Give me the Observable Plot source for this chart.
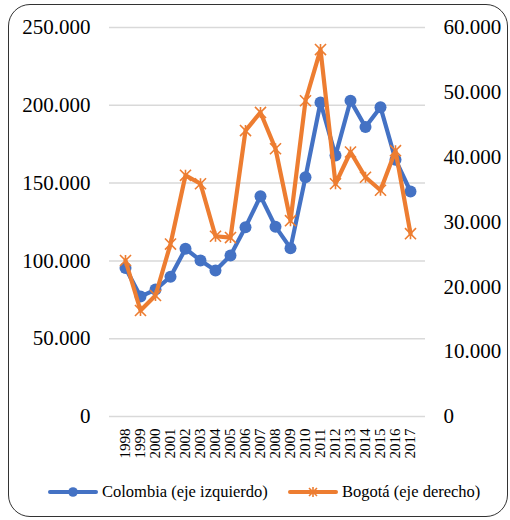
<!DOCTYPE html>
<html>
<head>
<meta charset="utf-8">
<script src="https://cdn.jsdelivr.net/npm/d3@7"></script>
<script src="https://cdn.jsdelivr.net/npm/@observablehq/plot@0.6"></script>
<style>
  html, body { margin: 0; padding: 0; background: #fff; }
  body { width: 510px; height: 520px; position: relative; overflow: hidden; }
  #frame { position: absolute; left: 8px; top: 4px; width: 498px; height: 511px; border: 1.5px solid #333; border-radius: 22px; }
  #chart { position: absolute; left: 0; top: 0; }
  #chart svg, #chart svg text, #legend, #legend span { font-family: 'Liberation Serif', 'Times New Roman', serif !important; }
  #legend { position: absolute; top: 481px; left: 0; width: 510px; height: 22px; font-size: 16.5px; color: #000; }
  .item { position: absolute; top: 0; display: flex; align-items: center; height: 22px; white-space: nowrap; }
  .item svg { margin-right: 2px; }
</style>
</head>
<body>
<div id="frame"></div>
<div id="chart"></div>
<div id="legend"></div>
<script>
const years = ["1998","1999","2000","2001","2002","2003","2004","2005","2006","2007","2008","2009","2010","2011","2012","2013","2014","2015","2016","2017"];
const colombia = [95500, 77100, 81600, 89800, 107800, 100300, 93800, 103500, 121700, 141600, 122000, 108200, 153800, 201800, 167700, 203000, 186000, 198800, 165000, 144600];
const bogota = [24060, 16350, 18660, 26600, 37200, 35900, 27800, 27600, 44100, 46900, 41300, 30200, 48700, 56600, 35900, 40800, 36900, 34900, 41000, 28200];
const leftTicks = [0, 50000, 100000, 150000, 200000, 250000];
const rightTicks = [0, 10000, 20000, 30000, 40000, 50000, 60000];
const seriesNames = ["Colombia (eje izquierdo)", "Bogotá (eje derecho)"];
const colors = ["#4472C4", "#ED7D31"];

const k = 250000 / 60000;
const fmt = d3.formatLocale({decimal: ",", thousands: ".", grouping: [3], currency: ["$", ""]}).format(",");

const rowsC = years.map((y, i) => ({year: y, value: colombia[i]}));
const rowsB = years.map((y, i) => ({year: y, value: bogota[i] * k}));

const star = {
  draw(context, size) {
    const r = Math.sqrt(size) * 0.6;
    context.moveTo(-r, -r); context.lineTo(r, r);
    context.moveTo(-r, r); context.lineTo(r, -r);
    context.moveTo(0, -r); context.lineTo(0, r);
  }
};

const chart = Plot.plot({
  width: 510,
  height: 470,
  marginTop: 27,
  marginBottom: 54,
  marginLeft: 109,
  marginRight: 85,
  style: {fontFamily: "'Liberation Serif', 'Times New Roman', serif", background: "transparent", color: "#000"},
  x: {type: "point", domain: years, padding: 0.5, label: null},
  y: {domain: [0, 250000], label: null},
  marks: [
    Plot.gridY(leftTicks, {stroke: "#d9d9d9", strokeOpacity: 1, strokeWidth: 1.5}),
    Plot.axisY(leftTicks, {anchor: "left", tickSize: 0, tickPadding: 19, tickFormat: fmt, fontSize: 21, label: null}),
    Plot.axisY(rightTicks.map(v => v * k), {anchor: "right", tickSize: 0, tickPadding: 18, tickFormat: v => fmt(Math.round(v / k)), fontSize: 21, label: null}),
    Plot.axisX({tickSize: 0, tickRotate: -90, fontSize: 15, tickPadding: 12, label: null}),
    Plot.line(rowsC, {x: "year", y: "value", stroke: colors[0], strokeWidth: 4.2}),
    Plot.dot(rowsC, {x: "year", y: "value", fill: colors[0], r: 6, stroke: null}),
    Plot.line(rowsB, {x: "year", y: "value", stroke: colors[1], strokeWidth: 4.2}),
    Plot.dot(rowsB, {x: "year", y: "value", symbol: star, r: 5.2, stroke: colors[1], strokeWidth: 1.6, fill: "none"})
  ]
});
document.getElementById("chart").appendChild(chart);

// legend
const legend = document.getElementById("legend");
const lefts = [48, 288];
seriesNames.forEach((name, i) => {
  const item = document.createElement("div");
  item.className = "item";
  item.style.left = lefts[i] + "px";
  const marker = i === 0
    ? `<circle cx="25" cy="11" r="4.8" fill="${colors[0]}"/>`
    : `<path d="M21,7L29,15M21,15L29,7M25,6L25,16" stroke="${colors[1]}" stroke-width="1.6"/>`;
  item.innerHTML = `<svg width="52" height="22"><line x1="2" y1="11" x2="48" y2="11" stroke="${colors[i]}" stroke-width="4" stroke-linecap="round"/>${marker}</svg><span>${name}</span>`;
  legend.appendChild(item);
});
</script>
</body>
</html>
